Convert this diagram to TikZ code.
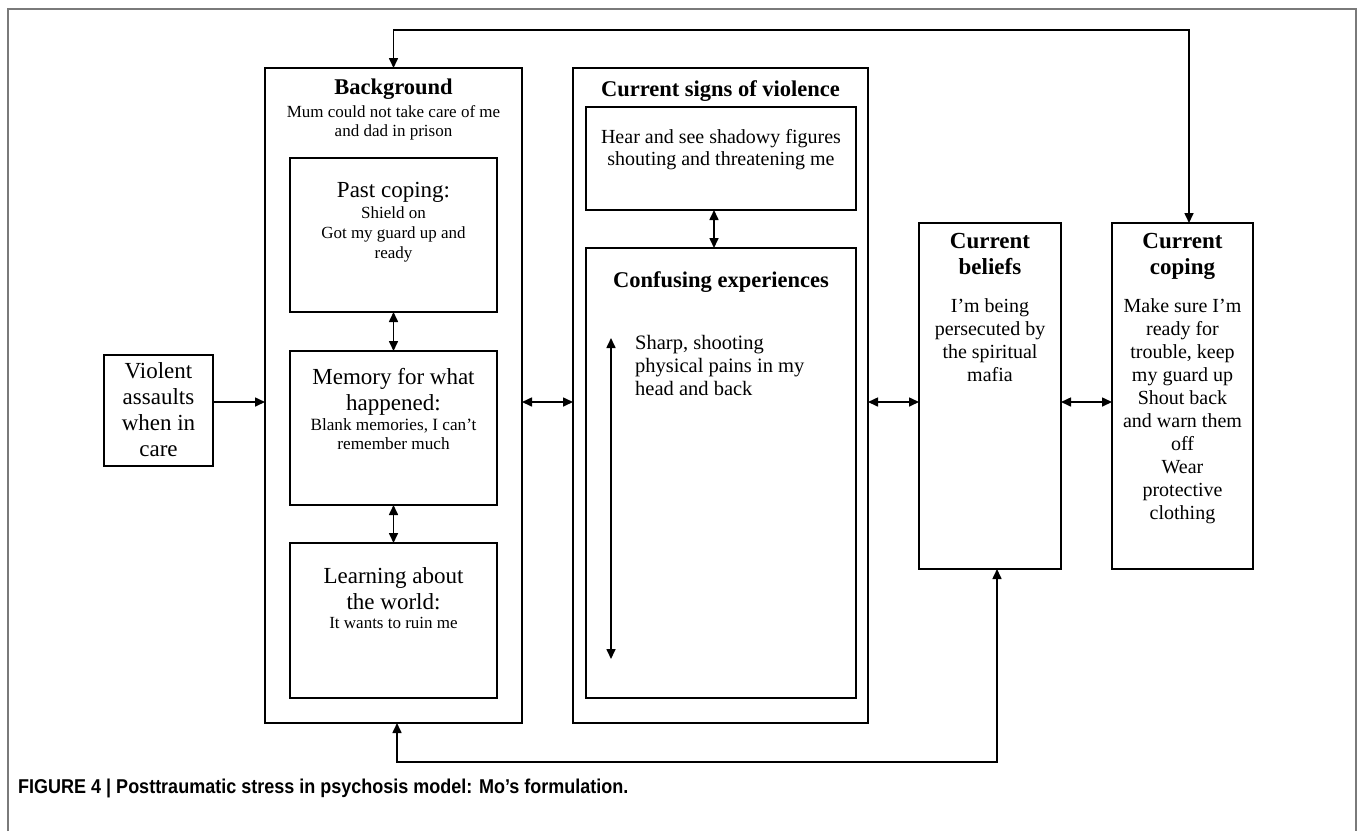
\documentclass[tikz,border=0pt]{standalone}
\usepackage{fontspec}
\setmainfont{Liberation Serif}
\newfontfamily\capfont[FakeStretch=0.9]{Liberation Sans}
\usetikzlibrary{arrows.meta,positioning}
\definecolor{frameGrey}{HTML}{7A7A7A}

\begin{document}
\begin{tikzpicture}[
  x=1pt, y=-1pt,
  >={Triangle[length=10pt,width=9pt]},
  box/.style  ={draw=black, fill=white, line width=1.7pt, inner sep=0pt, outer sep=0pt},
  link/.style ={->, draw=black, line width=1.6pt},
  both/.style ={<->, draw=black, line width=1.6pt},
  ttl/.style  ={inner sep=0pt, anchor=north, align=center,
                font=\bfseries\fontsize{22.5}{25}\selectfont},
  ttlB/.style ={inner sep=0pt, anchor=north, align=center,
                font=\bfseries\fontsize{23}{26}\selectfont},
  sub/.style  ={inner sep=0pt, anchor=north, align=center,
                font=\fontsize{23}{26}\selectfont},
  txt/.style  ={inner sep=0pt, anchor=north, align=center,
                font=\fontsize{17}{20}\selectfont},
  big/.style  ={inner sep=0pt, anchor=north, align=center,
                font=\fontsize{20}{23}\selectfont},
]
\useasboundingbox (0,0) rectangle (1363,831);
\fill[white] (0,0) rectangle (1363,831);

% ---- frame and caption --------------------------------------------------------------
\draw[frameGrey, line width=1.5pt] (8,831) -- (8,9) -- (1356,9) -- (1356,831);
\node[inner sep=0pt, anchor=west, font=\capfont\bfseries\fontsize{20}{23}\selectfont] (cap)
  at (18,788) {FIGURE 4 | Posttraumatic stress in psychosis model: Mo’s formulation.};

% the row the horizontal arrows run on, and the two loop levels
\coordinate (row) at (0,402);
\coordinate (top) at (0,30);
\coordinate (bot) at (0,762);

% ============================================================ LEFT
\node[box, minimum width=109pt, minimum height=111pt] (viol) at (158.5,410.5) {};
\node[sub] at (158.5,362) {Violent\\assaults\\when in\\care};

% ============================================================ BACKGROUND
\node[box, minimum width=257pt, minimum height=655pt] (bg) at (393.5,395.5) {};
\node[ttl] at (393.5,79) {Background};
\node[txt, font=\fontsize{17}{19.5}\selectfont] at (393.5,105) {Mum could not take care of me\\and dad in prison};

\node[box, minimum width=207pt, minimum height=154pt] (past) at (393.5,235) {};
\node[sub] at (393.5,182) {Past coping:};
\node[txt] at (393.5,206) {Shield on\\Got my guard up and\\ready};

\node[box, minimum width=207pt, minimum height=154pt] (mem) at (393.5,428) {};
\node[sub] at (393.5,368) {Memory for what\\happened:};
\node[txt, font=\fontsize{17.2}{19}\selectfont] at (393.5,418) {Blank memories, I can’t\\remember much};

\node[box, minimum width=207pt, minimum height=155pt] (learn) at (393.5,620.5) {};
\node[sub] at (393.5,567) {Learning about\\the world:};
\node[txt] at (393.5,617) {It wants to ruin me};

\draw[both] (past) -- (mem);
\draw[both] (mem) -- (learn);

% ============================================================ CURRENT SIGNS
\node[box, minimum width=295pt, minimum height=655pt] (signs) at (720.5,395.5) {};
\node[ttl] at (720.5,80) {Current signs of violence};

\node[box, minimum width=270pt, minimum height=103pt] (hear) at (721,158.5) {};
\node[big, font=\fontsize{20}{22}\selectfont] at (721,129) {Hear and see shadowy figures\\shouting and threatening me};

\node[box, minimum width=270pt, minimum height=450pt] (conf) at (721,473) {};
\node[ttl] at (721,271) {Confusing experiences};
\node[inner sep=0pt, anchor=north west, align=left, font=\fontsize{20.5}{23}\selectfont]
  at (635,335) {Sharp, shooting\\physical pains in my\\head and back};
\coordinate (painA) at (611,338);
\coordinate (painB) at (611,659);
\draw[both] (painA) -- (painB);

\draw[both] ([xshift=-7pt]hear.south) -- ([xshift=-7pt]conf.north);

% ============================================================ BELIEFS, COPING
\node[box, minimum width=142pt, minimum height=346pt] (bel) at (990,396) {};
\node[ttlB] at (990,233) {Current\\beliefs};
\node[big] at (990,298) {I’m being\\persecuted by\\the spiritual\\mafia};

\node[box, minimum width=141pt, minimum height=346pt] (cop) at (1182.5,396) {};
\node[ttlB] at (1182.5,233) {Current\\coping};
\node[big] at (1182.5,298) {Make sure I’m\\ready for\\trouble, keep\\my guard up\\Shout back\\and warn them\\off\\Wear\\protective\\clothing};

% ---- the row of arrows ---------------------------------------------------------------
\draw[link] (viol.east |- row) -- (bg.west |- row);
\draw[both] (bg.east |- row) -- (signs.west |- row);
\draw[both] (signs.east |- row) -- (bel.west |- row);
\draw[both] (bel.east |- row) -- (cop.west |- row);

% ---- the two loops -------------------------------------------------------------------
\draw[both] (bg.north) -- (bg.north |- top) -| ([xshift=6.5pt]cop.north);
\draw[both] ([xshift=3.5pt]bg.south) -- ([xshift=3.5pt]bg.south |- bot) -| ([xshift=7pt]bel.south);

\end{tikzpicture}
\end{document}
